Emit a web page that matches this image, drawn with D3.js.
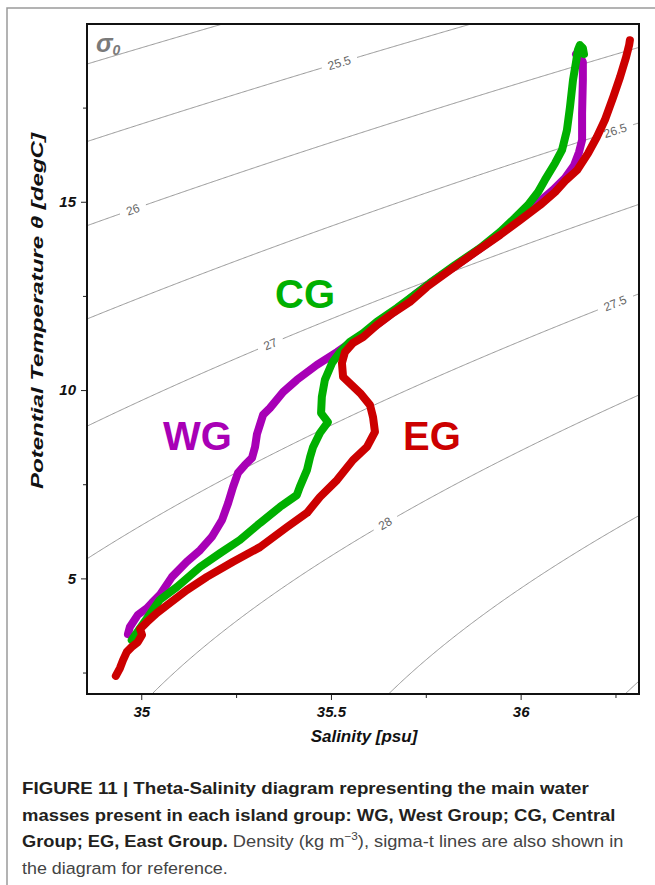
<!DOCTYPE html>
<html>
<head>
<meta charset="utf-8">
<script src="https://cdn.jsdelivr.net/npm/d3@7"></script>
<style>
body { margin: 0; background: #fff; }
svg { display: block; font-family: "Liberation Sans", Arial, sans-serif; }
</style>
</head>
<body>
<svg id="chart" width="655" height="885"></svg>
<script>
// T-S profiles (salinity psu, potential temperature degC)
var wgSal = [34.965,34.970,34.991,35.015,35.028,35.049,35.081,35.120,35.155,35.186,35.213,35.229,35.242,35.255,35.273,35.292,35.300,35.305,35.321,35.339,35.374,35.410,35.463,35.516,35.569,35.621,35.674,35.727,35.761,35.827,35.888,35.946,35.998,36.046,36.085,36.117,36.141,36.154,36.162,36.162,36.164,36.164,36.156,36.146];
var wgTheta = [3.52,3.71,4.03,4.21,4.35,4.56,5.04,5.44,5.75,6.10,6.55,7.00,7.43,7.80,8.01,8.20,8.49,8.83,9.34,9.52,9.95,10.27,10.67,11.01,11.38,11.73,12.13,12.58,12.84,13.29,13.72,14.14,14.57,14.97,15.31,15.63,15.97,16.32,16.64,17.35,18.23,18.71,18.87,18.92];

var cgSal = [34.975,34.997,35.023,35.049,35.094,35.155,35.208,35.260,35.313,35.366,35.410,35.418,35.437,35.445,35.453,35.471,35.492,35.474,35.476,35.484,35.503,35.524,35.550,35.585,35.621,35.674,35.727,35.761,35.827,35.893,35.946,35.985,36.019,36.046,36.064,36.091,36.109,36.122,36.130,36.138,36.146,36.151,36.156,36.164,36.167];
var cgTheta = [3.36,3.68,4.05,4.43,4.77,5.30,5.67,6.02,6.47,6.90,7.21,7.43,7.88,8.22,8.49,8.86,9.15,9.39,9.82,10.27,10.72,11.01,11.28,11.51,11.81,12.18,12.58,12.84,13.32,13.77,14.20,14.57,14.91,15.26,15.58,16.03,16.37,16.90,17.51,18.23,18.71,19.03,19.16,19.08,18.92];

var egSal = [34.933,34.944,34.952,34.962,34.975,34.991,35.002,34.997,35.015,35.041,35.076,35.120,35.173,35.242,35.313,35.384,35.437,35.471,35.516,35.558,35.595,35.616,35.611,35.603,35.577,35.532,35.529,35.537,35.558,35.585,35.621,35.664,35.708,35.753,35.814,35.880,35.946,35.998,36.051,36.091,36.120,36.149,36.178,36.201,36.222,36.244,36.262,36.278,36.286,36.288];
var egTheta = [2.41,2.62,2.83,3.05,3.18,3.31,3.50,3.66,3.84,4.08,4.35,4.69,5.04,5.44,5.83,6.36,6.74,7.16,7.61,8.14,8.49,8.89,9.28,9.60,9.92,10.35,10.72,11.01,11.25,11.41,11.73,12.05,12.34,12.74,13.19,13.66,14.12,14.51,14.91,15.26,15.58,15.84,16.29,16.72,17.17,17.78,18.31,18.84,19.16,19.29];

var groupNames = ["WG", "CG", "EG"];

// sigma-0 contours
var sigmaLevels = [24.5, 25, 25.5, 26, 26.5, 27, 27.5, 28, 28.5, 29, 29.5];
var labelLevels = [25.5, 26, 26.5, 27, 27.5, 28];
var labelSal = [35.522, 34.978, 36.249, 35.340, 36.249, 35.643];

// axes
var salDomain = [34.857, 36.312];
var thetaDomain = [1.93, 19.72];
var salTicks = [35, 35.5, 36];
var salMinor = [35.25, 35.75, 36.25];
var thetaTicks = [5, 10, 15];
var thetaMinor = [2.5, 7.5, 12.5, 17.5];

/* setup */
var svg = d3.select('#chart');
var plotL = 87, plotT = 24, plotR = 639, plotB = 694;

var x = d3.scaleLinear().domain(salDomain).range([plotL, plotR]);
var y = d3.scaleLinear().domain(thetaDomain).range([plotB, plotT]);

var colors = { WG: '#a800b6', CG: '#00b000', EG: '#cc0000' };

// UNESCO 1980 density at surface pressure
function sigma0(s, t) {
    var t2 = t * t, t3 = t2 * t, t4 = t3 * t, t5 = t4 * t;
    var rw = 999.842594 + 6.793952e-2 * t - 9.095290e-3 * t2 + 1.001685e-4 * t3
        - 1.120083e-6 * t4 + 6.536332e-9 * t5;
    var a = 8.24493e-1 - 4.0899e-3 * t + 7.6438e-5 * t2 - 8.2467e-7 * t3 + 5.3875e-9 * t4;
    var b = -5.72466e-3 + 1.0227e-4 * t - 1.6546e-6 * t2;
    var c = 4.8314e-4;
    return rw + a * s + b * Math.pow(s, 1.5) + c * s * s - 1000;
}

function thetaAt(s, level) {
    var lo = -2, hi = 35;
    if (level > sigma0(s, lo) || level < sigma0(s, hi)) return null;
    for (var i = 0; i < 50; i++) {
        var mid = (lo + hi) / 2;
        if (sigma0(s, mid) > level) lo = mid; else hi = mid;
    }
    return (lo + hi) / 2;
}

/* frame around the figure panel */
svg.append('path')
    .attr('d', 'M7,885V8H655')
    .attr('fill', 'none')
    .attr('stroke', '#9a9a9a')
    .attr('stroke-width', 1.5);

svg.append('clipPath').attr('id', 'plotclip')
    .append('rect')
    .attr('x', plotL).attr('y', plotT)
    .attr('width', plotR - plotL).attr('height', plotB - plotT);

var plot = svg.append('g').attr('clip-path', 'url(#plotclip)');

/* density contours */
var nS = 500;
var sSamples = d3.range(nS + 1).map(function (i) {
    return salDomain[0] - 0.05 + (salDomain[1] - salDomain[0] + 0.1) * i / nS;
});

var contourLine = d3.line()
    .defined(function (d) { return d.ok; })
    .x(function (d) { return d.px; })
    .y(function (d) { return d.py; });

var gContours = plot.append('g');
var gLabels = plot.append('g');

sigmaLevels.forEach(function (lev) {
    var pts = [];
    sSamples.forEach(function (s) {
        var t = thetaAt(s, lev);
        if (t !== null) pts.push({ px: x(s), py: y(t), ok: true });
    });

    var li = labelLevels.indexOf(lev);
    if (li >= 0) {
        var ls = labelSal[li];
        var lt = thetaAt(ls, lev);
        var cx = x(ls), cy = y(lt);
        var px2 = x(ls + 0.01), py2 = y(thetaAt(ls + 0.01, lev));
        var ang = Math.atan2(py2 - cy, px2 - cx) * 180 / Math.PI;
        var lab = gLabels.append('text')
            .attr('transform', 'translate(' + cx + ',' + cy + ') rotate(' + ang + ')')
            .attr('text-anchor', 'middle')
            .attr('dy', '0.36em')
            .attr('font-size', 12)
            .attr('fill', '#666')
            .text(String(lev));
        var half = lab.node().getComputedTextLength() / 2 + 6.5;
        pts.forEach(function (p) {
            if (Math.hypot(p.px - cx, p.py - cy) < half) p.ok = false;
        });
    }

    gContours.append('path')
        .attr('d', contourLine(pts))
        .attr('fill', 'none')
        .attr('stroke', '#8c8c8c')
        .attr('stroke-width', 0.9);
});

/* profiles */
var profiles = [
    { name: 'WG', sal: wgSal, theta: wgTheta },
    { name: 'CG', sal: cgSal, theta: cgTheta },
    { name: 'EG', sal: egSal, theta: egTheta }
];

var profLine = d3.line()
    .x(function (d) { return x(d[0]); })
    .y(function (d) { return y(d[1]); });

plot.selectAll('.prof')
    .data(profiles)
    .enter().append('path')
    .attr('class', 'prof')
    .attr('d', function (p) { return profLine(d3.zip(p.sal, p.theta)); })
    .attr('fill', 'none')
    .attr('stroke', function (p) { return colors[p.name]; })
    .attr('stroke-width', 8)
    .attr('stroke-linejoin', 'round')
    .attr('stroke-linecap', 'round');

/* group labels */
var groupPos = { WG: [163, 450], CG: [275, 308], EG: [403, 450] };
svg.selectAll('.glab')
    .data(groupNames)
    .enter().append('text')
    .attr('class', 'glab')
    .attr('x', function (d) { return groupPos[d][0]; })
    .attr('y', function (d) { return groupPos[d][1]; })
    .attr('font-size', 40)
    .attr('font-weight', 'bold')
    .attr('fill', function (d) { return colors[d]; })
    .text(function (d) { return d; });

/* sigma_0 tag */
var sig = svg.append('text')
    .attr('x', 96).attr('y', 52)
    .attr('fill', '#7a7a7a')
    .attr('font-weight', 'bold')
    .attr('font-style', 'italic');
sig.append('tspan').attr('font-size', 25).text('σ');
sig.append('tspan').attr('font-size', 14).attr('dy', 3).text('0');

/* axes */
function styleAxis(g) {
    g.select('.domain').remove();
    g.selectAll('.tick line').attr('stroke', '#222').attr('stroke-width', 1);
    g.selectAll('.tick text')
        .attr('fill', '#111')
        .attr('font-size', 15)
        .attr('font-weight', 'bold')
        .attr('font-style', 'italic')
        .attr('font-family', '"Liberation Sans", Arial, sans-serif');
}

svg.append('g')
    .attr('transform', 'translate(0,' + plotB + ')')
    .call(d3.axisBottom(x).tickValues(salTicks).tickSize(6).tickPadding(6)
        .tickFormat(d3.format('')))
    .call(styleAxis);
svg.append('g')
    .attr('transform', 'translate(0,' + plotB + ')')
    .call(d3.axisBottom(x).tickValues(salMinor).tickSize(4).tickFormat(''))
    .call(styleAxis);
svg.append('g')
    .attr('transform', 'translate(' + plotL + ',0)')
    .call(d3.axisLeft(y).tickValues(thetaTicks).tickSize(6).tickPadding(5)
        .tickFormat(d3.format('d')))
    .call(styleAxis);
svg.append('g')
    .attr('transform', 'translate(' + plotL + ',0)')
    .call(d3.axisLeft(y).tickValues(thetaMinor).tickSize(4).tickFormat(''))
    .call(styleAxis);

svg.append('rect')
    .attr('x', plotL).attr('y', plotT)
    .attr('width', plotR - plotL).attr('height', plotB - plotT)
    .attr('fill', 'none')
    .attr('stroke', '#111')
    .attr('stroke-width', 2);

svg.append('text')
    .attr('x', 364).attr('y', 742)
    .attr('text-anchor', 'middle')
    .attr('font-size', 17).attr('font-weight', 'bold').attr('font-style', 'italic')
    .attr('fill', '#111')
    .text('Salinity [psu]');

svg.append('text')
    .attr('transform', 'translate(43,311) rotate(-90)')
    .attr('text-anchor', 'middle')
    .attr('font-size', 17).attr('font-weight', 'bold').attr('font-style', 'italic')
    .attr('textLength', 356).attr('lengthAdjust', 'spacingAndGlyphs')
    .attr('fill', '#111')
    .text('Potential Temperature θ [degC]');

/* caption */
var capLines = [
    [{ t: 'FIGURE 11 | Theta-Salinity diagram representing the main water', b: true }],
    [{ t: 'masses present in each island group: WG, West Group; CG, Central', b: true }],
    [{ t: 'Group; EG, East Group.', b: true }, { t: ' Density (kg m', b: false },
     { t: '−3', b: false, sup: true }, { t: '), sigma-t lines are also shown in', b: false }],
    [{ t: 'the diagram for reference.', b: false }]
];
var capWidths = [567, 594, 602, 206];
var capTop = 794, capStep = 26.5, capX = 22;
capLines.forEach(function (parts, i) {
    var t = svg.append('text')
        .attr('font-size', 17)
        .attr('transform', 'translate(' + capX + ',' + (capTop + i * capStep) + ')');
    parts.forEach(function (p, j) {
        var ts = t.append('tspan')
            .attr('font-weight', p.b ? 'bold' : 'normal')
            .attr('fill', p.b ? '#231f20' : '#444')
            .text(p.t);
        if (p.sup) ts.attr('font-size', 11).attr('dy', -7);
        else if (j > 0 && parts[j - 1].sup) ts.attr('dy', 7);
    });
    var k = capWidths[i] / t.node().getComputedTextLength();
    t.attr('transform', 'translate(' + capX + ',' + (capTop + i * capStep) + ') scale(' + k + ',1)');
});
</script>
</body>
</html>
